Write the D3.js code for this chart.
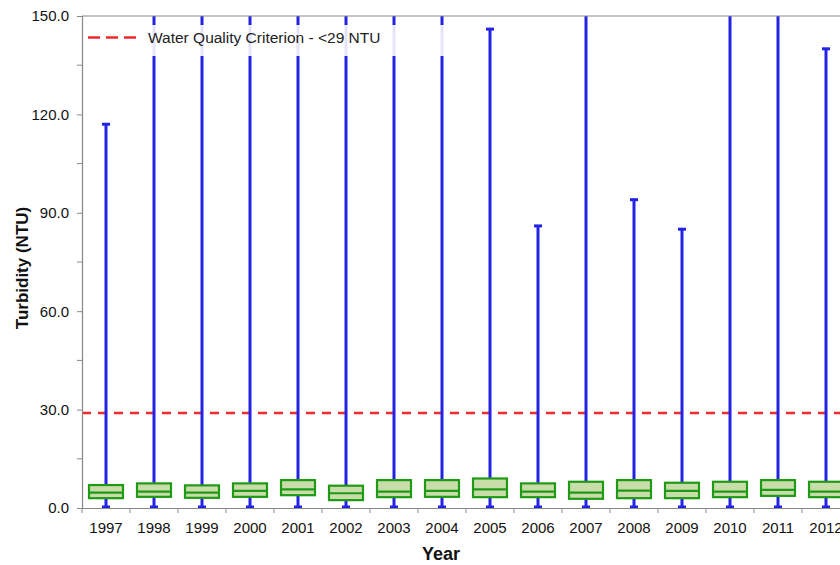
<!DOCTYPE html>
<html><head><meta charset="utf-8">
<script src="https://cdn.jsdelivr.net/npm/d3@7"></script>
<style>body{margin:0;background:#fff;} svg{display:block;font-family:"Liberation Sans",Arial,sans-serif;}</style>
</head><body><svg id="c" width="840" height="565"></svg>
<script>
const years = ["1997","1998","1999","2000","2001","2002","2003","2004","2005","2006","2007","2008","2009","2010","2011","2012"];
const q1     = [3.0,3.4,3.1,3.4,3.9,2.4,3.3,3.4,3.3,3.3,2.8,3.0,3.0,3.3,3.7,3.3];
const median = [4.7,5.0,4.7,5.2,5.7,4.5,5.0,5.2,5.7,5.0,4.7,5.3,5.2,5.0,5.5,5.0];
const q3     = [7.0,7.5,6.9,7.5,8.5,6.8,8.5,8.5,9.0,7.5,8.0,8.5,7.7,8.0,8.5,8.0];
const wMin   = [0.3,0.3,0.3,0.3,0.3,0.3,0.3,0.3,0.3,0.3,0.3,0.3,0.3,0.3,0.3,0.3];
const wMax   = [117,400,400,400,400,400,400,400,146,86,400,94,85,400,400,140];
const criterion = 29;
const yTicks = [0,30,60,90,120,150];
const yMinor = [15,45,75,105,135];
const legendLabel = "Water Quality Criterion - <29 NTU";

(function(){
const svg = d3.select("#c");
const left = 82, plotTop = 16, bottom = 508, bw = 48;
const x = d3.scaleBand().domain(years).range([left, left + bw*years.length]).padding(0);
const y = d3.scaleLinear().domain([0,150]).range([bottom, plotTop]);

svg.append("defs").append("clipPath").attr("id","clip")
  .append("rect").attr("x",left).attr("y",plotTop).attr("width",840-left).attr("height",bottom-plotTop);

const g = svg.append("g").attr("clip-path","url(#clip)");
const data = years.map((yr,i)=>({yr,q1:q1[i],med:median[i],q3:q3[i],lo:wMin[i],hi:wMax[i]}));
const blue = "#2323e6";
const boxW = 34, capW = 8;

g.append("line").attr("x1",left).attr("x2",840).attr("y1",y(criterion)).attr("y2",y(criterion))
  .attr("stroke","#f02a2a").attr("stroke-width",2.5).attr("stroke-dasharray","9,7");

const grp = g.selectAll("g.b").data(data).join("g").attr("class","b")
  .attr("transform",d=>`translate(${x(d.yr)+x.bandwidth()/2},0)`);
grp.append("line").attr("x1",0).attr("x2",0).attr("y1",d=>y(d.lo)).attr("y2",d=>y(d.hi))
  .attr("stroke",blue).attr("stroke-width",3);
grp.append("line").attr("x1",-capW/2).attr("x2",capW/2).attr("y1",d=>y(d.hi)).attr("y2",d=>y(d.hi))
  .attr("stroke",blue).attr("stroke-width",3);
grp.append("line").attr("x1",-capW/2).attr("x2",capW/2).attr("y1",d=>y(d.lo)).attr("y2",d=>y(d.lo))
  .attr("stroke",blue).attr("stroke-width",3);
grp.append("rect").attr("x",-boxW/2).attr("width",boxW).attr("y",d=>y(d.q3)).attr("height",d=>y(d.q1)-y(d.q3))
  .attr("fill","#c9ddaa").attr("stroke","#1f9a14").attr("stroke-width",2.2);
grp.append("line").attr("x1",-boxW/2).attr("x2",boxW/2).attr("y1",d=>y(d.med)).attr("y2",d=>y(d.med))
  .attr("stroke","#1f9a14").attr("stroke-width",2.2);

const lg = svg.append("g");
lg.append("rect").attr("x",left+1).attr("y",25).attr("width",370).attr("height",31).attr("fill","#fff").attr("opacity",0.88);
lg.append("line").attr("x1",88).attr("x2",136).attr("y1",37.5).attr("y2",37.5)
  .attr("stroke","#f02a2a").attr("stroke-width",2.5).attr("stroke-dasharray","12,6");
lg.append("text").attr("x",148).attr("y",43).attr("font-size",15.5).attr("fill","#222").text(legendLabel);

svg.append("line").attr("x1",left).attr("x2",840).attr("y1",plotTop).attr("y2",plotTop).attr("stroke","#888").attr("stroke-width",1.2);

const ya = svg.append("g").attr("transform",`translate(${left},0)`)
  .call(d3.axisLeft(y).tickValues(yTicks).tickFormat(d3.format(".1f")).tickSize(5).tickPadding(8));
ya.select(".domain").attr("stroke","#888").attr("stroke-width",1.2);
ya.selectAll(".tick line").attr("stroke","#888");
ya.selectAll("text").attr("font-size",15).attr("fill","#111").attr("font-family","Liberation Sans, Arial, sans-serif");
ya.selectAll(".minor").data(yMinor).join("line").attr("class","minor")
  .attr("x1",-5).attr("x2",0).attr("y1",d=>y(d)).attr("y2",d=>y(d)).attr("stroke","#888");

const xa = svg.append("g").attr("transform",`translate(0,${bottom})`)
  .call(d3.axisBottom(x).tickSize(0).tickPadding(14));
xa.select(".domain").attr("stroke","#888").attr("stroke-width",1.2);
xa.selectAll("text").attr("font-size",15).attr("fill","#111").attr("font-family","Liberation Sans, Arial, sans-serif");
xa.selectAll(".bt").data(d3.range(years.length+1)).join("line").attr("class","bt")
  .attr("x1",i=>left+i*bw).attr("x2",i=>left+i*bw).attr("y1",0).attr("y2",5).attr("stroke","#888");

svg.append("text").attr("x",441).attr("y",560).attr("text-anchor","middle").attr("font-size",18).attr("font-weight","bold").attr("fill","#111").text("Year");
svg.append("text").attr("transform","translate(28,268) rotate(-90)").attr("text-anchor","middle").attr("font-size",17).attr("font-weight","bold").attr("fill","#111").text("Turbidity (NTU)");
})();
</script></body></html>
